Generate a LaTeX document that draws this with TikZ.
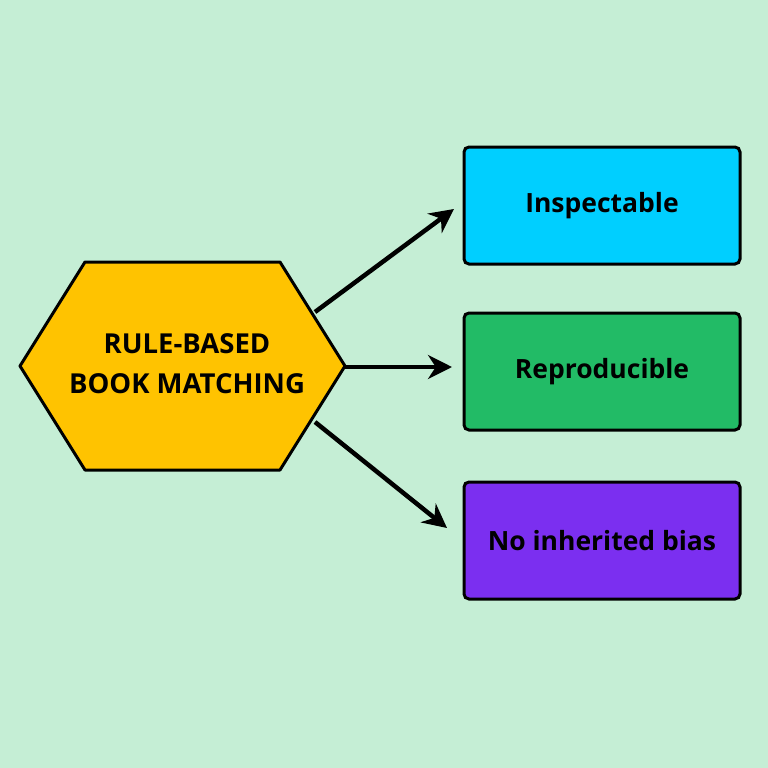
\documentclass[tikz,border=0pt]{standalone}
\usepackage{fontspec}
\setmainfont{Open Sans}
\usetikzlibrary{arrows.meta}
\definecolor{bg}{HTML}{C5EED5}
\definecolor{hex}{HTML}{FFC300}
\definecolor{cA}{HTML}{00CFFF}
\definecolor{cB}{HTML}{22BB66}
\definecolor{cC}{HTML}{7B2FF0}
\begin{document}
\begin{tikzpicture}[x=1pt,y=-1pt,
  box/.style={draw=black,line width=3pt,rounded corners=5pt,minimum width=276pt,minimum height=117pt,font=\bfseries\fontsize{26.5}{30}\selectfont,inner sep=0pt},
  arr/.style={line width=4.5pt,-{Stealth[length=24pt,width=24pt]}}]
\fill[bg] (0,0) rectangle (768,768);
\useasboundingbox (0,0) rectangle (768,768);
\coordinate (h1) at (20,366);
\coordinate (h2) at (85,262);
\coordinate (h3) at (280,262);
\coordinate (h4) at (345,366);
\coordinate (h5) at (280,470);
\coordinate (h6) at (85,470);
\draw[fill=hex,line width=3pt,line join=round] (h1)--(h2)--(h3)--(h4)--(h5)--(h6)--cycle;
\node[font=\bfseries\fontsize{27.5}{40}\selectfont,align=center] (hex) at (187,364) {RULE-BASED\\BOOK MATCHING};
\node[box,fill=cA] (a) at (602,205.5) {Inspectable};
\node[box,fill=cB] (b) at (602,371.5) {Reproducible};
\node[box,fill=cC] (c) at (602,540.5) {No inherited bias};
\coordinate (s1) at (315,312);
\coordinate (s2) at (345,367);
\coordinate (s3) at (315,422);
\coordinate (e1) at (454,209);
\coordinate (e2) at (452,367);
\coordinate (e3) at (447,528);
\draw[arr] (s1)--(e1);
\draw[arr] (s2)--(e2);
\draw[arr] (s3)--(e3);
\end{tikzpicture}
\end{document}
